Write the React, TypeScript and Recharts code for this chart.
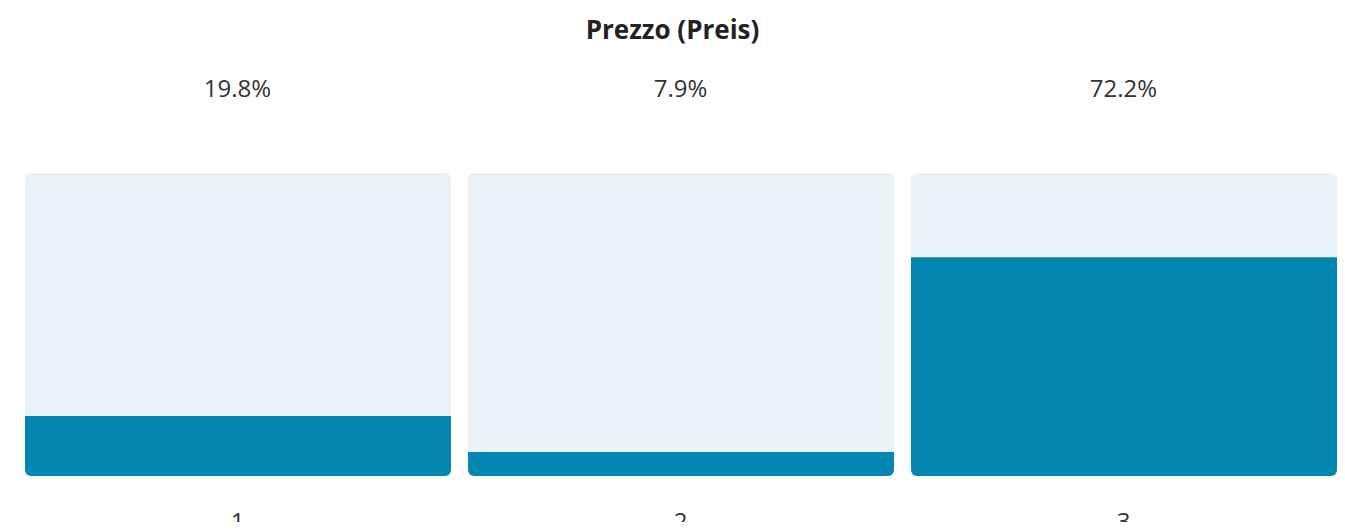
import { BarChart, Bar, XAxis, YAxis } from 'recharts';

const categories = ['1', '2', '3'];
const shares = [19.8, 7.9, 72.2];
const title = 'Prezzo (Preis)';

const data = categories.map((name, i) => ({ name, share: shares[i] }));

const font = '"Open Sans", sans-serif';

function TopTick({ x, y, payload }: any) {
  const i = categories.indexOf(payload.value);
  return (
    <text x={x} y={y} dy={-68} textAnchor="middle" fontSize={24} fill="#333" fontFamily={font}>
      {shares[i].toFixed(1)}%
    </text>
  );
}

function BottomTick({ x, y, payload }: any) {
  return (
    <text x={x} y={y} dy={46} textAnchor="middle" fontSize={24} fill="#333" fontFamily={font}>
      {payload.value}
    </text>
  );
}

export default function App() {
  return (
    <div style={{ position: 'relative', width: 1345, height: 530, margin: -8, background: '#fff' }}>
      <div
        style={{
          position: 'absolute',
          top: 11,
          left: 0,
          width: 1345,
          textAlign: 'center',
          fontFamily: font,
          fontWeight: 700,
          fontSize: 26,
          lineHeight: '36px',
          color: '#222',
        }}
      >
        {title}
      </div>
      <BarChart width={1345} height={530} data={data} margin={{ top: 110, right: 0, left: 16, bottom: 0 }}>
        <XAxis
          xAxisId="top"
          orientation="top"
          dataKey="name"
          height={63}
          axisLine={false}
          tickLine={false}
          tick={<TopTick />}
        />
        <XAxis dataKey="name" height={54} axisLine={false} tickLine={false} tick={<BottomTick />} />
        <YAxis hide domain={[0, 100]} />
        <Bar
          dataKey="share"
          barSize={426}
          fill="#0386B0"
          radius={[0, 0, 6, 6]}
          background={{ fill: '#E8F1F5', radius: 6 }}
          isAnimationActive={false}
        />
      </BarChart>
    </div>
  );
}
